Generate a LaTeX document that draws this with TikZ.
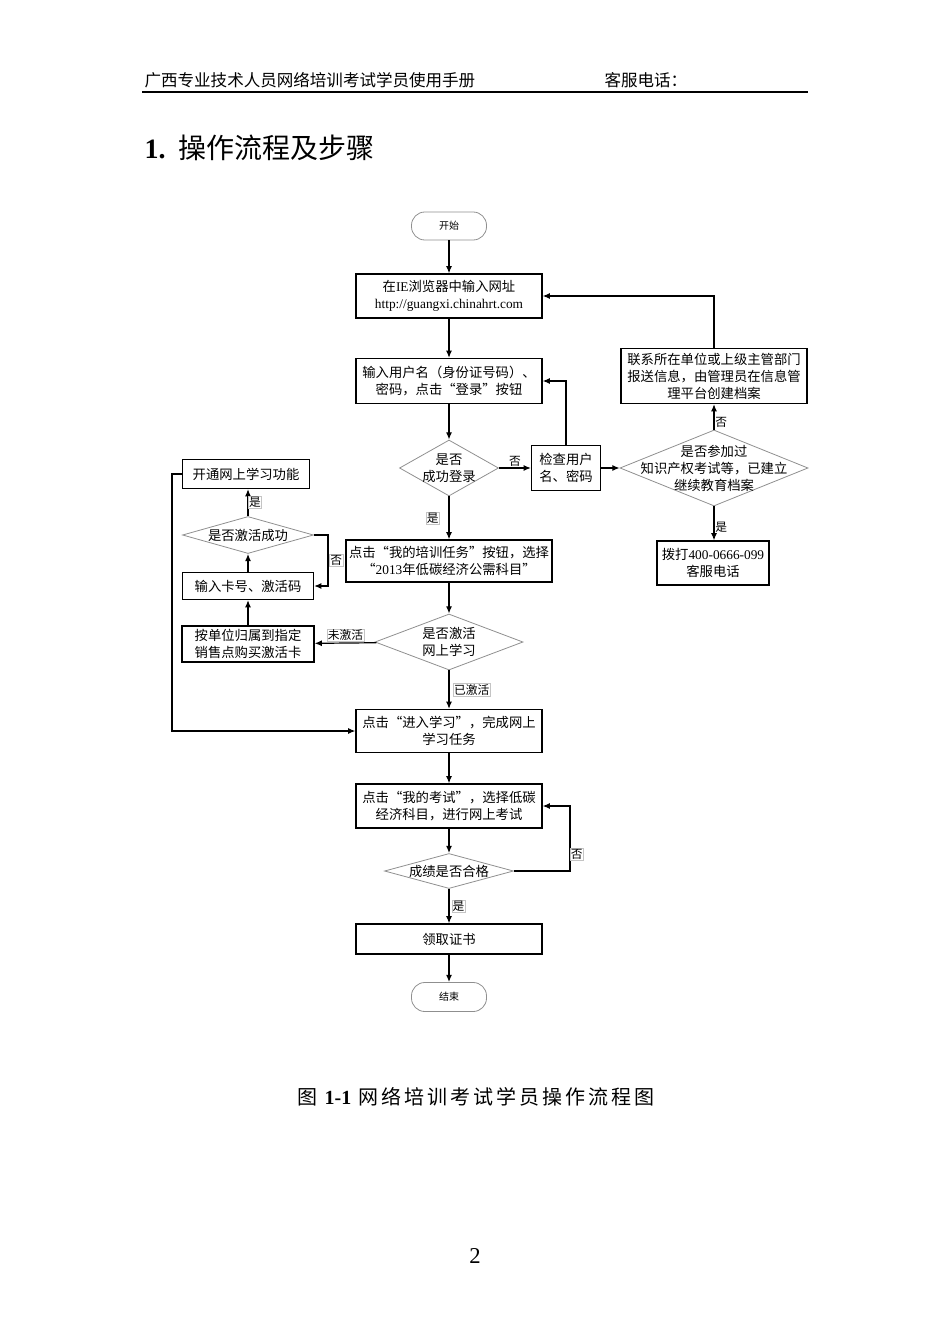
\documentclass[tikz,border=0pt]{standalone}
\usepackage{fontspec}
\setmainfont{Noto Sans CJK SC}
\newfontfamily\lat{Liberation Serif}
\usepackage{tikz}
\usetikzlibrary{arrows.meta,shapes.geometric,positioning}
\definecolor{frame}{HTML}{8F8F8F}
\definecolor{tagline}{HTML}{C4C4C4}

\begin{document}
\begin{tikzpicture}[x=0.75pt,y=-0.75pt,
  every node/.style={font=\fontsize{10}{12.8}\selectfont,align=center,inner sep=1pt},
  sz/.style 2 args={minimum width=#1*0.75pt,minimum height=#2*0.75pt},
  box/.style={draw=black,line width=0.9pt},
  dia/.style={diamond,draw=frame,line width=0.6pt,inner sep=0pt},
  pill/.style={draw=frame,line width=0.6pt,rounded corners=10pt,font=\fontsize{7.5}{9}\selectfont},
  tag/.style={draw=tagline,line width=0.4pt,inner sep=0.6pt,font=\fontsize{8.8}{10}\selectfont},
  note/.style={inner sep=0.6pt,font=\fontsize{8.8}{10}\selectfont},
  arr/.style={-{Latex[length=5.5pt,width=4.5pt]},draw=black,line width=0.9pt}]
  \useasboundingbox (0,0) rectangle (950,1344);
  % page head
  \node[anchor=west,font=\fontsize{12.4}{14}\selectfont] (head) at (143,80) {广西专业技术人员网络培训考试学员使用手册};
  \node[anchor=west,font=\fontsize{12.4}{14}\selectfont] (tel) at (603,80) {客服电话：};
  \draw[line width=1.5pt] (142,92) -- (808,92);
  \node[anchor=west,font=\fontsize{21}{24}\selectfont] (title) at (143,148) {{\lat\bfseries 1.}\hspace{10pt}操作流程及步骤};
  % main column
  \node[pill,sz={75}{28}] (start) at (449,226) {开始};
  \node[box,sz={186}{44}] (url) at (449,296) {在{\lat IE}浏览器中输入网址\\{\lat http://guangxi.chinahrt.com}};
  \node[box,sz={186}{45}] (login) at (449,381) {输入用户名（身份证号码）、\\密码，点击“登录”按钮};
  \node[dia,sz={99}{56},label={center:{是否\\成功登录}}] (isok) at (449,468) {};
  \node[box,sz={206}{42}] (task) at (449,561) {点击“我的培训任务”按钮，选择\\“{\lat 2013}年低碳经济公需科目”};
  \node[dia,sz={148}{56},label={center:{是否激活\\网上学习}}] (isact) at (449,642) {};
  \node[box,sz={186}{43}] (study) at (449,731) {点击“进入学习”，完成网上\\学习任务};
  \node[box,sz={186}{44}] (exam) at (449,806) {点击“我的考试”，选择低碳\\经济科目，进行网上考试};
  \node[dia,sz={129}{35},label={center:成绩是否合格}] (pass) at (449,871) {};
  \node[box,sz={186}{30}] (cert) at (449,939) {领取证书};
  \node[pill,sz={75}{29}] (stop) at (449,997) {结束};
  % right branch
  \node[box,sz={69}{45}] (check) at (566,468) {检查用户\\名、密码};
  \node[dia,sz={188}{76},label={center:{是否参加过\\知识产权考试等，已建立\\继续教育档案}}] (hasrec) at (714,468) {};
  \node[box,sz={186}{55}] (contact) at (714,376) {联系所在单位或上级主管部门\\报送信息，由管理员在信息管\\理平台创建档案};
  \node[box,sz={112}{44}] (hotline) at (713,563) {拨打{\lat 400-0666-099}\\客服电话};
  % left branch
  \node[box,sz={132}{36}] (buy) at (248,644) {按单位归属到指定\\销售点购买激活卡};
  \node[box,sz={131}{27}] (card) at (248,586) {输入卡号、激活码};
  \node[dia,sz={131}{37},label={center:是否激活成功}] (actok) at (248,535) {};
  \node[box,sz={127}{29}] (open) at (246,474) {开通网上学习功能};
  % connectors
  \draw[arr] (start) -- (url);
  \draw[arr] (url) -- (login);
  \draw[arr] (login) -- (isok);
  \draw[arr] (isok) -- node[note,above=0pt] {否} (check);
  \draw[arr] (check.north) |- (login.east);
  \draw[arr] (check) -- (hasrec);
  \draw[arr] (hasrec) -- node[note,pos=.3,right=0pt] {否} (contact);
  \draw[arr] (contact.north) |- (url.east);
  \draw[arr] (hasrec.south) -- node[note,pos=.6,right=0pt] {是} (hasrec.south |- hotline.north);
  \draw[arr] (isok) -- node[tag,left=7pt] {是} (task);
  \draw[arr] (task) -- (isact);
  \draw[arr] (isact) -- node[tag,above=1pt] {未激活} (buy);
  \draw[arr] (buy) -- (card);
  \draw[arr] (card) -- (actok);
  \draw[arr] (actok.north) -- node[tag,right=0pt] {是} (actok.north |- open.south);
  \draw[arr] (actok.east) -- ++(14,0) |- node[tag,pos=.25,right=1pt] {否} (card.east);
  \draw[arr] (open.west) -- ++(-10,0) |- (study.west);
  \draw[arr] (isact) -- node[tag,right=3pt] {已激活} (study);
  \draw[arr] (study) -- (exam);
  \draw[arr] (exam) -- (pass);
  \draw[arr] (pass.east) -- ++(56,0) |- node[tag,pos=.13,right=0pt] {否} (exam.east);
  \draw[arr] (pass) -- node[tag,right=2pt] {是} (cert);
  \draw[arr] (cert) -- (stop);
  % caption and page number
  \node[font=\fontsize{15}{18}\selectfont] (cap) at (476,1097) {\addfontfeature{LetterSpace=15}图 {\lat\bfseries 1-1} 网络培训考试学员操作流程图};
  \node[font=\fontsize{17}{20}\selectfont] (pgno) at (475,1256) {\lat 2};
\end{tikzpicture}
\end{document}
